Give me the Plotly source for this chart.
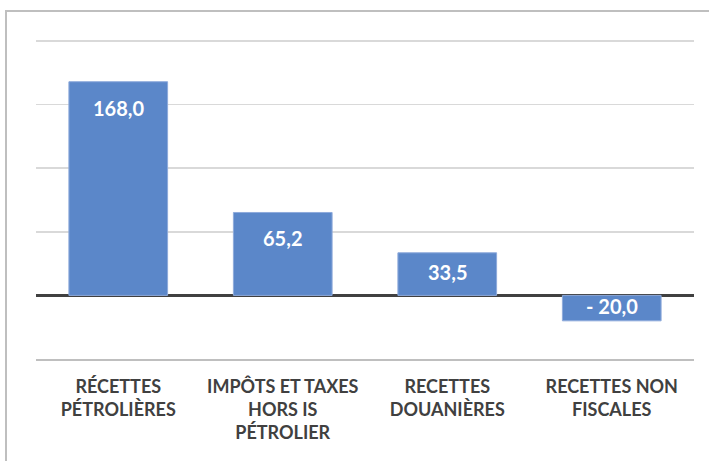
import plotly.graph_objects as go

categories = ["RÉCETTES<br>PÉTROLIÈRES", "IMPÔTS ET TAXES<br>HORS IS<br>PÉTROLIER",
              "RECETTES<br>DOUANIÈRES", "RECETTES NON<br>FISCALES"]
values = [168.0, 65.2, 33.5, -20.0]
labels = ["168,0", "65,2", "33,5", "- 20,0"]

W, H = 709, 461
ml, mr, mt, mb = 36, 15, 40, 102
pw, ph = W - ml - mr, H - mt - mb
y_range = [-50, 200.8]
upp = (y_range[1] - y_range[0]) / ph  # units per pixel

fig = go.Figure(go.Bar(
    x=categories, y=values,
    marker=dict(color="#5b87c9", line=dict(color="#8eaadb", width=1)),
    width=0.6, hoverinfo="skip",
))

# value labels: inside end with padding, centred when the bar is too short
annotations = []
for c, v, t in zip(categories, values, labels):
    bar_px = abs(v) / upp
    if v > 0 and bar_px > 70:
        annotations.append(dict(x=c, y=v, yanchor="top", yshift=-12, text=t, showarrow=False))
    else:
        annotations.append(dict(x=c, y=v / 2, yanchor="middle", yshift=2, text=t, showarrow=False))
for a in annotations:
    a["font"] = dict(family="Lato", size=20, color="white", weight="bold")

def px_x(p):
    return (p - ml) / pw

def px_y(p):
    return (H - mb - p) / ph

fig.update_layout(
    width=W, height=H,
    margin=dict(l=ml, r=mr, t=mt, b=mb),
    paper_bgcolor="white", plot_bgcolor="white",
    showlegend=False,
    annotations=annotations,
    xaxis=dict(showgrid=False, showline=True, linecolor="#bfbfbf", linewidth=2,
               ticks="", automargin=False,
               tickfont=dict(family="Lato", size=18, color="#404040", weight="bold"),
               ticklabelstandoff=10),
    yaxis=dict(range=y_range, dtick=50, showticklabels=False, automargin=False,
               showgrid=True, gridcolor="#d9d9d9", gridwidth=1.5,
               zeroline=True, zerolinecolor="#404040", zerolinewidth=3),
    shapes=[dict(type="rect", xref="paper", yref="paper",
                 x0=px_x(6), x1=px_x(740), y0=px_y(11), y1=px_y(480),
                 line=dict(color="#bfbfbf", width=2), layer="below")],
)

fig.write_html("out.html", config={"displayModeBar": False, "staticPlot": True},
               post_script="document.body.style.margin='0';document.body.style.overflow='hidden';")
